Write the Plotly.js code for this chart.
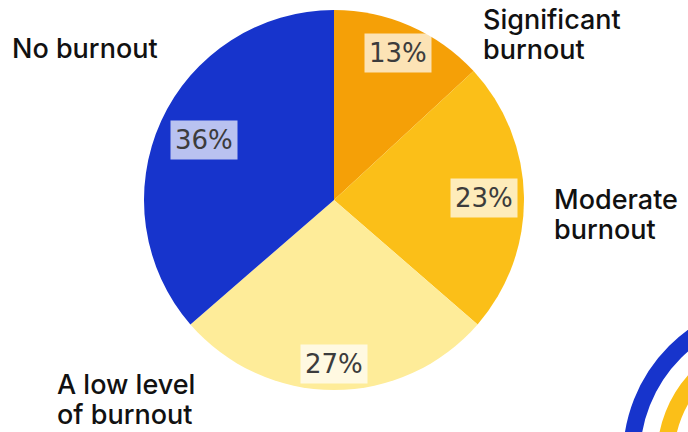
<!DOCTYPE html>
<html>
<head>
<meta charset="utf-8">
<script src="https://cdn.plot.ly/plotly-3.0.1.min.js"></script>
<style>html,body{margin:0;padding:0;background:#fff;}#chart{width:688px;height:432px;}</style>
</head>
<body>
<div id="chart"></div>
<script>
// ---- data ----
const categories = ["Significant burnout", "Moderate burnout", "A low level of burnout", "No burnout"];
const labelLines = [["Significant", "burnout"], ["Moderate", "burnout"], ["A low level", "of burnout"], ["No burnout"]];
const values = [13, 23, 27, 36];
const percentText = ["13%", "23%", "27%", "36%"];

// ---- styling / layout constants ----
const colors = ["#F5A007", "#FBBF18", "#FEEC99", "#1734CC"];
const W = 688, H = 432;
const cx = 334, cy = 200, R = 190;
const pctRadius = [0.845, 0.79, 0.865, 0.755];
// outside category label anchors (left x, first-line centre y), line gap
const labelAnchor = [[481, 19], [552, 199], [55, 384], [10, 48]];
const lineGap = 30;

const px = x => x / W;
const py = y => 1 - y / H;

const total = values.reduce((a, b) => a + b, 0);
const annotations = [];
let cum = 0;
values.forEach((v, i) => {
  const mid = (cum + v / 2) / total * 2 * Math.PI;
  cum += v;
  const r = R * pctRadius[i];
  annotations.push({
    xref: "paper", yref: "paper",
    x: px(cx + r * Math.sin(mid)), y: py(cy - r * Math.cos(mid)),
    xanchor: "center", yanchor: "middle",
    text: percentText[i], showarrow: false,
    font: {family: "DejaVu Sans", size: 26, color: "#3c3c3c"},
    bgcolor: "rgba(255,255,255,0.7)", borderpad: 4
  });
});
labelLines.forEach((lines, i) => {
  lines.forEach((t, j) => {
    annotations.push({
      xref: "paper", yref: "paper",
      x: px(labelAnchor[i][0]), y: py(labelAnchor[i][1] + j * lineGap),
      xanchor: "left", yanchor: "middle",
      text: t, showarrow: false,
      font: {family: "Inter", size: 27, weight: 500, color: "#111111"}
    });
  });
});

const shapes = [
  {type: "circle", xref: "paper", yref: "paper",
   x0: px(780 - 148.5), x1: px(780 + 148.5), y0: py(457 + 148.5), y1: py(457 - 148.5),
   line: {color: "#1734CC", width: 17}, fillcolor: "rgba(0,0,0,0)"},
  {type: "circle", xref: "paper", yref: "paper",
   x0: px(780 - 114.5), x1: px(780 + 114.5), y0: py(457 + 114.5), y1: py(457 - 114.5),
   line: {color: "#FBBF18", width: 17}, fillcolor: "rgba(0,0,0,0)"}
];

const trace = {
  type: "pie",
  labels: categories,
  values: values,
  sort: false,
  direction: "clockwise",
  rotation: 0,
  marker: {colors: colors, line: {width: 0}},
  textinfo: "none",
  hoverinfo: "label+percent",
  domain: {x: [px(cx - R), px(cx + R)], y: [py(cy + R), py(cy - R)]},
  showlegend: false
};

const layout = {
  width: W, height: H,
  margin: {l: 0, r: 0, t: 0, b: 0},
  paper_bgcolor: "#ffffff",
  showlegend: false,
  annotations: annotations,
  shapes: shapes
};

Plotly.newPlot("chart", [trace], layout, {staticPlot: true, displayModeBar: false});
</script>
</body>
</html>
